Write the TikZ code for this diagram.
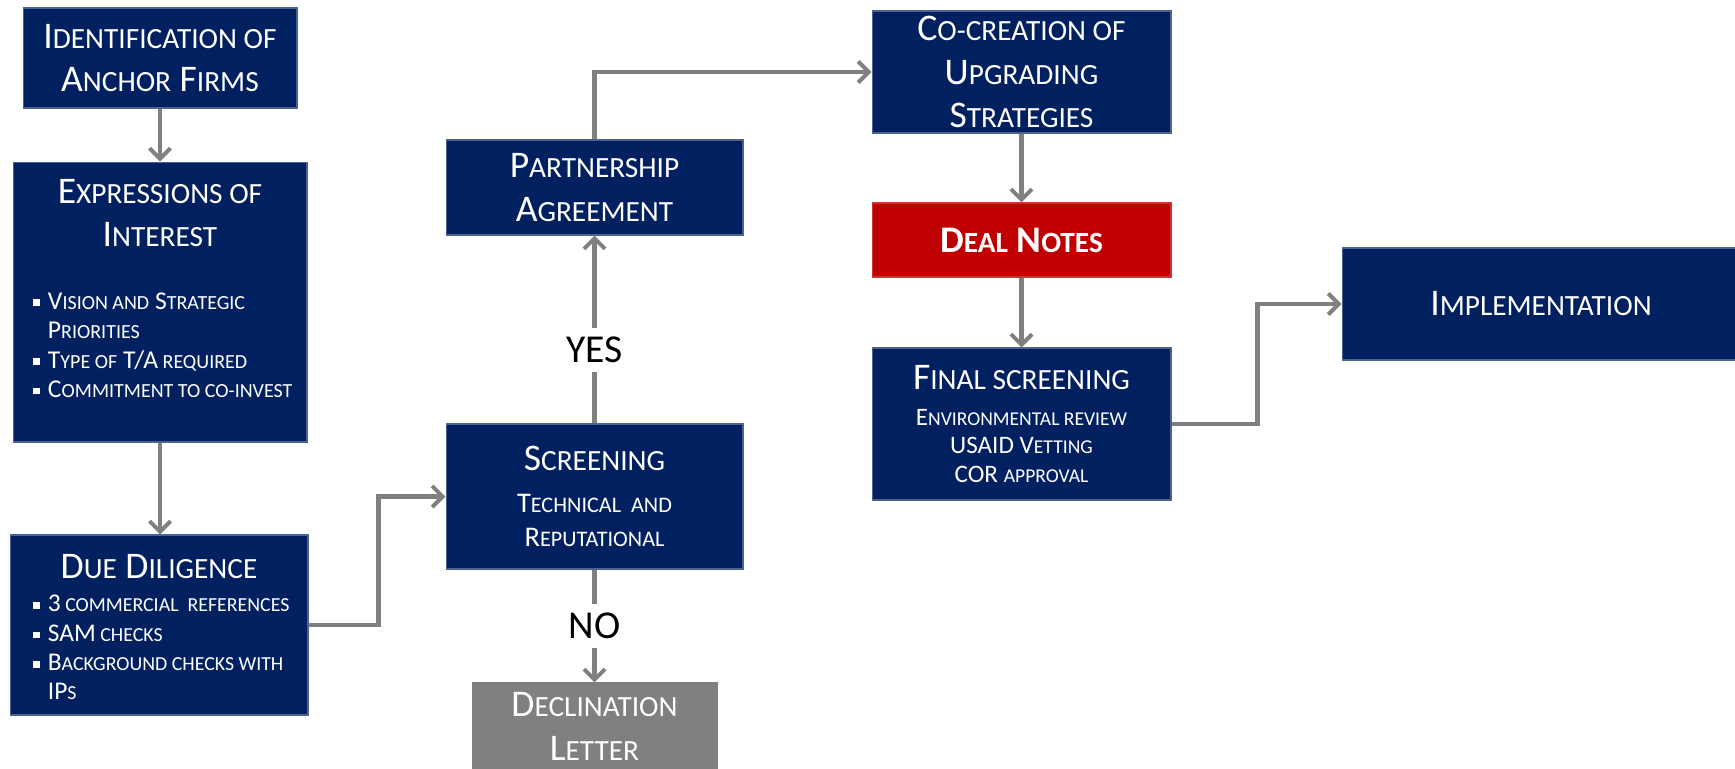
\documentclass[tikz,border=0pt]{standalone}
\usepackage{fontspec}
\setmainfont{Carlito}
\newfontfamily\capsfont[Scale=0.78]{Carlito}
\usetikzlibrary{arrows.meta, positioning}
\definecolor{usnavy}{RGB}{0, 32, 96}
\definecolor{dealred}{RGB}{192, 0, 0}
\definecolor{declgray}{RGB}{128, 128, 128}
\definecolor{flowgray}{RGB}{128, 128, 128}
\newcommand\sC[2]{#1{\capsfont\MakeUppercase{#2}}}
\newcommand\blt{\makebox[0.57em][l]{\rule[0.12em]{0.26em}{0.26em}}}
\newcommand\headsize{\fontsize{21.4}{24.8}\selectfont}
\tikzset{
  stage/.style 2 args={rectangle, fill=usnavy, draw=usnavy!70!white, line width=0.6pt,
                       minimum width=#1, minimum height=#2, inner sep=0pt,
                       text=white, align=center, font=\headsize},
  dealbox/.style 2 args={stage={#1}{#2}, fill=dealred, draw=dealred!80!white, font=\headsize\bfseries},
  declbox/.style 2 args={stage={#1}{#2}, fill=declgray, draw=declgray},
  stagetext/.style={text=white, align=center, inner sep=0pt, font=\headsize},
  bullets/.style={text=white, align=left, inner sep=0pt, anchor=north west},
  arrow/.style={-{Straight Barb[length=6pt, width=12pt]}, line width=2.3pt, color=flowgray},
  answer/.style={fill=white, text=black, inner sep=5pt, font=\fontsize{22.5}{26}\selectfont},
}

\begin{document}
\begin{tikzpicture}[x=0.02cm, y=-0.02cm]
  \useasboundingbox (0,0) rectangle (1735,768);

  % left column
  \node[stage={5.48cm}{2cm}] (ident) at (160,58) {\sC{I}{dentification of}\\\sC{A}{nchor} \sC{F}{irms}};
  \node[stage={5.88cm}{5.6cm}] (interest) at (160,302) {};
  \node[stagetext] (interesttitle) at (160,213) {\sC{E}{xpressions of}\\\sC{I}{nterest}};
  \node[bullets, font=\fontsize{14.6}{16.8}\selectfont] (interestlist) at (33,292)
    {\blt\sC{V}{ision and} \sC{S}{trategic}\\
     \hphantom{\blt}\sC{P}{riorities}\\
     \blt\sC{T}{ype of} \sC{T/A}{ required}\\
     \blt\sC{C}{ommitment to co-invest}};
  \node[stage={5.96cm}{3.6cm}] (dd) at (159,625) {};
  \node[stagetext] (ddtitle) at (159,567) {\sC{D}{ue} \sC{D}{iligence}};
  \node[bullets, font=\fontsize{14.5}{16.7}\selectfont] (ddlist) at (33,595)
    {\blt\sC{3}{ commercial\ \ references}\\
     \blt\sC{SAM}{ checks}\\
     \blt\sC{B}{ackground checks with}\\
     \hphantom{\blt}\sC{IP}{s}};

  % screening column
  \node[stage={5.94cm}{1.9cm}] (partner) at (594.5,187.5) {\sC{P}{artnership}\\\sC{A}{greement}};
  \node[stage={5.94cm}{2.9cm}, font=\fontsize{16.2}{19.5}\selectfont] (screen) at (594.5,496.5)
    {{\headsize\sC{S}{creening}}\\[4pt]\sC{T}{echnical\ \ and}\\\sC{R}{eputational}};
  \node[declbox={4.9cm}{1.74cm}] (decline) at (594.5,726.5) {\sC{D}{eclination}\\\sC{L}{etter}};

  % strategy column
  \node[stage={5.98cm}{2.44cm}] (cocreate) at (1021.5,72) {\sC{C}{o-creation of}\\\sC{U}{pgrading}\\\sC{S}{trategies}};
  \node[dealbox={5.98cm}{1.48cm}] (deal) at (1021.5,240) {\sC{D}{eal} \sC{N}{otes}};
  \node[stage={5.98cm}{3.04cm}, font=\fontsize{14.3}{16.4}\selectfont] (final) at (1021.5,424)
    {{\headsize\sC{F}{inal screening}}\\[4pt]\sC{E}{nvironmental review}\\USAID \sC{V}{etting}\\COR \sC{}{approval}};
  \node[stage={7.96cm}{2.24cm}] (impl) at (1541,304) {\sC{I}{mplementation}};

  % connectors
  \draw[arrow] (ident) -- (interest);
  \draw[arrow] (interest) -- (interest.south |- dd.north);
  \draw[arrow] (dd.east) -- ++(70,0) |- (screen.west);
  \draw[arrow] (screen) -- node[answer, pos=0.39] (yes) {YES} (partner);
  \draw[arrow] (screen) -- node[answer, midway] (no) {NO} (decline);
  \draw[arrow] (partner.north) |- (cocreate.west);
  \draw[arrow] (cocreate) -- (deal);
  \draw[arrow] (deal) -- (final);
  \draw[arrow] (final.east) -- ++(86,0) |- (impl.west);
\end{tikzpicture}
\end{document}
